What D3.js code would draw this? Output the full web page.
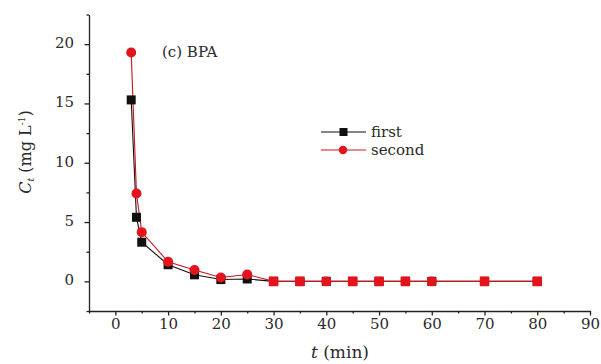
<!DOCTYPE html>
<html><head><meta charset="utf-8">
<script src="https://cdn.jsdelivr.net/npm/d3@7"></script>
<style>body{margin:0;background:#fff}svg{display:block}
svg text{font-family:"DejaVu Serif","Liberation Serif",serif !important;}</style>
</head><body>
<script>
const times = [3,4,5,10,15,20,25,30,35,40,45,50,55,60,70,80];
const firstVals = [15.3,5.4,3.3,1.4,0.55,0.15,0.2,0,0,0,0,0,0,0,0,0];
const secondVals = [19.3,7.4,4.15,1.65,0.95,0.32,0.58,0,0,0,0,0,0,0,0,0];
const xTicks = [0,10,20,30,40,50,60,70,80,90];
const yTicks = [0,5,10,15,20];
const seriesNames = ["first","second"];

const W=601,H=364;
const svg=d3.select("body").append("svg").attr("width",W).attr("height",H);
const x=d3.scaleLinear().domain([-5,90]).range([89,590]);
const y=d3.scaleLinear().domain([-2.5,22.5]).range([311,14.5]);
const ink="#2a2a2a";

// axes
const xAxis=d3.axisBottom(x).tickValues(xTicks).tickSize(4.5).tickSizeOuter(0);
const gx=svg.append("g").attr("transform",`translate(0,${y(-2.5)})`).call(xAxis);
gx.selectAll("text").attr("font-size",15).attr("fill",ink);
const xMinor=d3.range(-5,91,5).filter(v=>!xTicks.includes(v));
svg.append("g").attr("transform",`translate(0,${y(-2.5)})`).call(d3.axisBottom(x).tickValues(xMinor).tickSize(2.5).tickFormat("").tickSizeOuter(0)).select(".domain").remove();

const yAxis=d3.axisLeft(y).tickValues(yTicks).tickSize(4.5).tickSizeOuter(0);
const gy=svg.append("g").attr("transform",`translate(${x(-5)},0)`).call(yAxis);
gy.selectAll("text").attr("font-size",15).attr("fill",ink).attr("x",-15).attr("y",-1.5);
const yMinor=d3.range(-2.5,22.6,2.5).filter(v=>!yTicks.includes(v));
svg.append("g").attr("transform",`translate(${x(-5)},0)`).call(d3.axisLeft(y).tickValues(yMinor).tickSize(2.5).tickFormat("").tickSizeOuter(0)).select(".domain").remove();
svg.selectAll(".domain,.tick line").attr("stroke","#222").attr("stroke-width",1.3);

// lines
const line=d3.line().x(d=>x(d[0])).y(d=>y(d[1]));
const d1=times.map((t,i)=>[t,firstVals[i]]);
const d2=times.map((t,i)=>[t,secondVals[i]]);
svg.append("path").datum(d1).attr("d",line).attr("fill","none").attr("stroke","#111").attr("stroke-width",1.1);
svg.append("path").datum(d2).attr("d",line).attr("fill","none").attr("stroke","#c8161d").attr("stroke-width",1.1);
svg.selectAll(".sq").data(d1).enter().append("rect")
  .attr("x",d=>x(d[0])-4.5).attr("y",d=>y(d[1])-4.5).attr("width",9).attr("height",9).attr("fill","#111");
svg.selectAll(".ci").data(d2).enter().append("circle")
  .attr("cx",d=>x(d[0])).attr("cy",d=>y(d[1])).attr("r",d=>d[1]===0?0:5).attr("fill","#e3141b");
svg.selectAll(".cs").data(d2.filter(d=>d[1]===0)).enter().append("rect")
  .attr("x",d=>x(d[0])-4.8).attr("y",d=>y(d[1])-4.8).attr("width",9.6).attr("height",9.6).attr("rx",d=>(d[0]===40||d[0]===60)?4:1).attr("fill","#e3141b");

// annotation
svg.append("text").attr("x",162).attr("y",57).attr("font-size",15).attr("fill",ink).text("(c) BPA");

// legend
const leg=[{n:seriesNames[0],c:"#111",y:132,shape:"sq"},{n:seriesNames[1],c:"#c8161d",y:150,shape:"ci"}];
leg.forEach(l=>{
  svg.append("line").attr("x1",321).attr("x2",366).attr("y1",l.y).attr("y2",l.y).attr("stroke",l.c).attr("stroke-width",1.2);
  if(l.shape==="sq") svg.append("rect").attr("x",339.5).attr("y",l.y-4).attr("width",8).attr("height",8).attr("fill","#111");
  else svg.append("circle").attr("cx",343).attr("cy",l.y).attr("r",4.2).attr("fill","#e3141b");
  svg.append("text").attr("x",371).attr("y",l.y+5).attr("font-size",15).attr("fill",ink).text(l.n);
});

// axis titles
const xt=svg.append("text").attr("x",340).attr("y",358).attr("text-anchor","middle").attr("font-size",17).attr("fill",ink);
xt.append("tspan").attr("font-style","italic").text("t");
xt.append("tspan").text(" (min)");
const yt=svg.append("text").attr("transform","translate(31,152) rotate(-90)").attr("text-anchor","middle").attr("font-size",16).attr("fill",ink);
yt.append("tspan").attr("font-style","italic").text("C");
yt.append("tspan").attr("font-size",9).attr("dy",3).attr("font-style","italic").text("t");
yt.append("tspan").attr("dy",-3).text(" (mg L");
yt.append("tspan").attr("font-size",9).attr("dy",-6).text("-1");
yt.append("tspan").attr("dy",6).text(")");
</script>
</body></html>
